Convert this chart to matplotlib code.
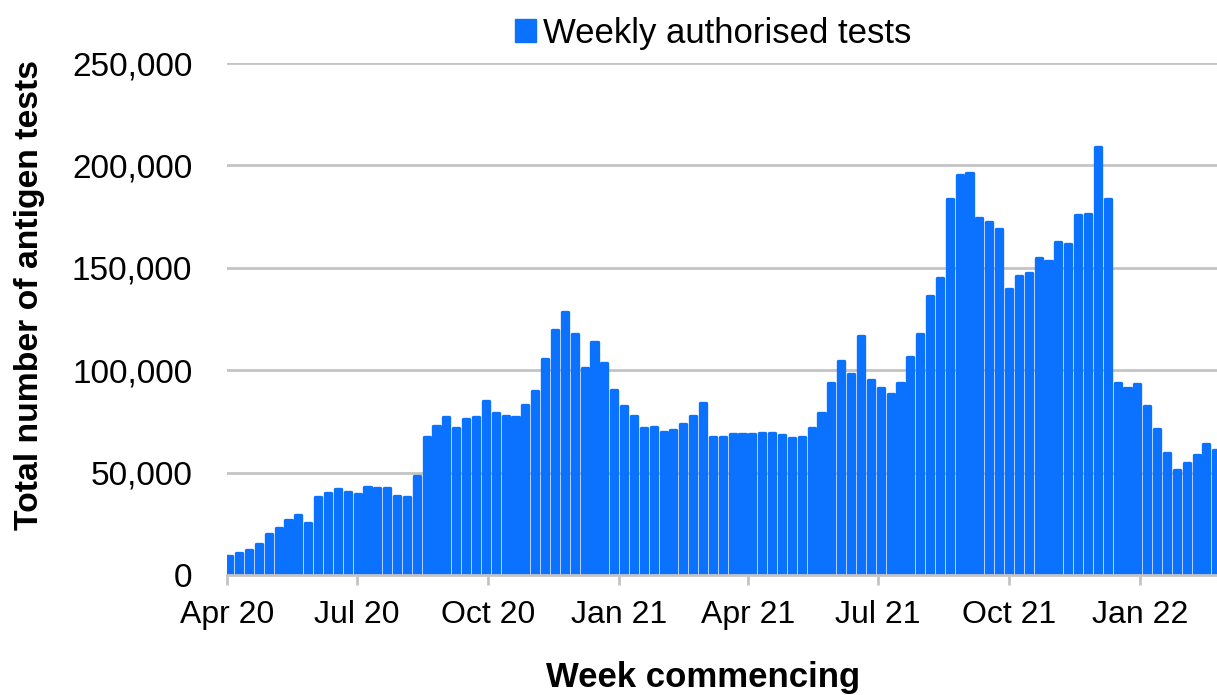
from matplotlib import pyplot as plt
from matplotlib.ticker import FuncFormatter
from matplotlib.patches import Patch

plt.rcParams['font.family'] = ['Liberation Sans', 'DejaVu Sans']

# weekly authorised antigen tests, thousands
tests_k = [
    9.4, 10.9, 12.2, 15.0, 20.2, 23.1, 27.0, 29.1, 25.5, 37.9, 39.9, 42.0, 40.5,
    39.7, 43.1, 42.5, 42.5, 38.6, 37.9, 48.5, 67.5, 72.9, 77.1, 71.6, 76.3, 77.0,
    85.1, 79.1, 77.8, 77.3, 83.0, 89.8, 105.3, 119.6, 128.4, 117.7, 101.2, 113.6,
    103.4, 90.5, 82.5, 77.6, 71.6, 72.4, 69.7, 70.8, 73.7, 77.6, 83.8, 67.5, 67.5,
    68.8, 68.8, 68.8, 69.5, 69.5, 68.2, 66.9, 67.5, 71.6, 78.9, 93.9, 104.6, 98.0,
    116.8, 95.2, 91.1, 88.4, 93.9, 106.6, 117.5,
    136.4, 145.2, 183.6, 195.3, 196.1, 174.2, 172.2, 168.8, 139.8, 146.0, 147.3,
    154.8, 153.3, 162.8, 161.5, 175.6, 176.3, 208.8, 183.7, 93.6, 91.1, 93.1, 82.4,
    71.5, 59.4, 51.1, 54.7, 58.6, 63.8, 61.0,
]
tests = [v * 1000 for v in tests_k]
weeks = list(range(len(tests)))

# quarter ticks, in week-index units
tick_pos = [-0.23, 12.94, 26.21, 39.49, 52.56, 65.73, 79.0, 92.27]
tick_labels = ["Apr 20", "Jul 20", "Oct 20", "Jan 21", "Apr 21", "Jul 21", "Oct 21", "Jan 22"]

blue = "#0b72ff"
grid = "#c4c4c4"

fig = plt.figure(figsize=(12.17, 6.95), dpi=100)
ax = fig.add_axes([227 / 1217, 120 / 695, 990 / 1217, 512 / 695])

ax.bar(weeks, tests, width=0.62, color=blue, edgecolor=blue, linewidth=2.4,
       joinstyle="round", zorder=3)

ax.set_xlim(-0.23, 100.07)
ax.set_ylim(0, 250000)
ax.set_yticks([0, 50000, 100000, 150000, 200000, 250000])
ax.yaxis.set_major_formatter(FuncFormatter(lambda v, p: f"{int(v):,}"))
ax.set_xticks(tick_pos)
ax.set_xticklabels(tick_labels)

ax.grid(axis="y", color=grid, linewidth=2, zorder=0)
for s in ["left", "right", "top"]:
    ax.spines[s].set_visible(False)
ax.spines["bottom"].set_color(grid)
ax.spines["bottom"].set_linewidth(2)
ax.spines["bottom"].set_zorder(4)

ax.tick_params(axis="y", length=0, pad=25, labelsize=24)
ax.tick_params(axis="x", length=7, width=2, color=grid, pad=11, labelsize=23)

fig.text(0.024, 0.576, "Total number of antigen tests", rotation=90,
         ha="center", va="center", fontsize=24.3, fontweight="bold")
fig.text(0.578, 0.0115, "Week commencing", ha="center", va="baseline",
         fontsize=25, fontweight="bold")

handle = Patch(facecolor=blue, edgecolor=blue)
fig.legend([handle], ["Weekly authorised tests"], loc="center",
           bbox_to_anchor=(0.586, 0.952), frameon=False, fontsize=25,
           handlelength=0.62, handleheight=0.62, handletextpad=0.2)

plt.savefig("out.png", dpi=100)
